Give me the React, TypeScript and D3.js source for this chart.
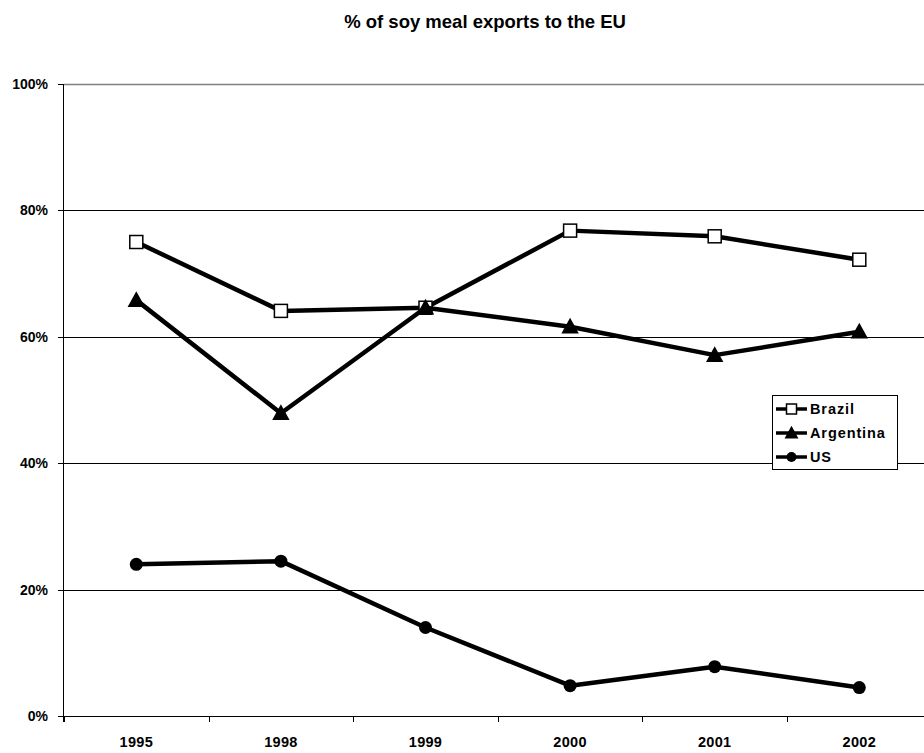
import React from "react";
import * as d3 from "d3";

const years = ["1995", "1998", "1999", "2000", "2001", "2002"];
const brazil = [75.0, 64.1, 64.6, 76.8, 75.9, 72.2];
const argentina = [65.8, 47.9, 64.6, 61.6, 57.1, 60.8];
const us = [24.0, 24.5, 14.0, 4.8, 7.8, 4.5];
const yTicks = [0, 20, 40, 60, 80, 100];
const seriesNames = ["Brazil", "Argentina", "US"];
const title = "% of soy meal exports to the EU";

const W = 924;
const H = 753;
const L = 64;
const T = 84;
const B = 716;
const R = 931.6;

type Kind = "square" | "triangle" | "circle";

function Marker({ kind, x, y, s }: { kind: Kind; x: number; y: number; s: number }) {
  if (kind === "square")
    return <rect x={x - s / 2} y={y - s / 2} width={s} height={s} fill="#fff" stroke="#000" strokeWidth={1.5} />;
  if (kind === "triangle") {
    const p = d3.path();
    p.moveTo(x, y - s * 0.6);
    p.lineTo(x + s * 0.58, y + s * 0.45);
    p.lineTo(x - s * 0.58, y + s * 0.45);
    p.closePath();
    return <path d={p.toString()} fill="#000" />;
  }
  return <circle cx={x} cy={y} r={s / 2} fill="#000" />;
}

export default function App() {
  const x = d3.scaleBand<string>().domain(years).range([L, R]).padding(0);
  const y = d3.scaleLinear().domain([0, 100]).range([B, T]);
  const cx = (d: string) => (x(d) as number) + x.bandwidth() / 2;
  const line = d3
    .line<number>()
    .x((_, i) => cx(years[i]))
    .y((v) => y(v));

  const series: { name: string; data: number[]; kind: Kind; size: number }[] = [
    { name: seriesNames[0], data: brazil, kind: "square", size: 13 },
    { name: seriesNames[1], data: argentina, kind: "triangle", size: 15 },
    { name: seriesNames[2], data: us, kind: "circle", size: 13 },
  ];

  const font = "Arial, 'Liberation Sans', Helvetica, sans-serif";
  const legendX = 772;
  const legendY = 395;
  const legendRows = [409, 433, 457].map((v) => v - legendY);

  return (
    <svg
      width={W}
      height={H}
      style={{ position: "absolute", left: 0, top: 0, background: "#fff" }}
      fontFamily={font}
    >
      <rect x={0} y={0} width={W} height={H} fill="#fff" />
      <text x={485} y={28} textAnchor="middle" fontSize={18.5} fontWeight="bold">
        {title}
      </text>
      {/* gridlines */}
      {yTicks.map((t) => (
        <line
          key={"g" + t}
          x1={L}
          x2={R}
          y1={Math.round(y(t)) + 0.5}
          y2={Math.round(y(t)) + 0.5}
          stroke={t === 100 ? "#808080" : "#000"}
          strokeWidth={t === 100 ? 1.5 : 1}
        />
      ))}
      {/* y axis */}
      <line x1={L - 0.5} x2={L - 0.5} y1={T} y2={B + 6} stroke="#000" strokeWidth={1} />
      {yTicks.map((t) => (
        <g key={"yt" + t}>
          <line x1={L - 6} x2={L} y1={Math.round(y(t)) + 0.5} y2={Math.round(y(t)) + 0.5} stroke="#000" />
          <text x={48} y={y(t)} dy="0.36em" textAnchor="end" fontSize={14} fontWeight="bold">
            {t + "%"}
          </text>
        </g>
      ))}
      {/* x axis */}
      <line x1={L} x2={R} y1={B + 0.5} y2={B + 0.5} stroke="#000" strokeWidth={1} />
      {years.map((yr) => (
        <g key={"xt" + yr}>
          <line
            x1={Math.round(x(yr) as number) + 0.5}
            x2={Math.round(x(yr) as number) + 0.5}
            y1={B}
            y2={B + 6}
            stroke="#000"
          />
          <text x={cx(yr)} y={747} textAnchor="middle" fontSize={14.5} fontWeight="bold" letterSpacing={0.3}>
            {yr}
          </text>
        </g>
      ))}
      {/* series */}
      {series.map((s) => (
        <g key={s.name}>
          <path d={line(s.data) || ""} fill="none" stroke="#000" strokeWidth={4.5} strokeLinejoin="round" />
          {s.data.map((v, i) => (
            <Marker key={i} kind={s.kind} x={cx(years[i])} y={y(v)} s={s.size} />
          ))}
        </g>
      ))}
      {/* legend */}
      <g transform={`translate(${legendX},${legendY})`}>
        <rect x={0.5} y={0.5} width={125} height={74} fill="#fff" stroke="#000" strokeWidth={1} />
        {series.map((s, i) => (
          <g key={"lg" + s.name} transform={`translate(0,${legendRows[i]})`}>
            <line x1={4} x2={35} y1={0} y2={0} stroke="#000" strokeWidth={3.5} />
            <Marker kind={s.kind} x={19.5} y={0} s={s.kind === "triangle" ? 12 : 10} />
            <text x={38} y={0} dy="0.36em" fontSize={14.5} fontWeight="bold" letterSpacing={0.9}>
              {s.name}
            </text>
          </g>
        ))}
      </g>
    </svg>
  );
}
